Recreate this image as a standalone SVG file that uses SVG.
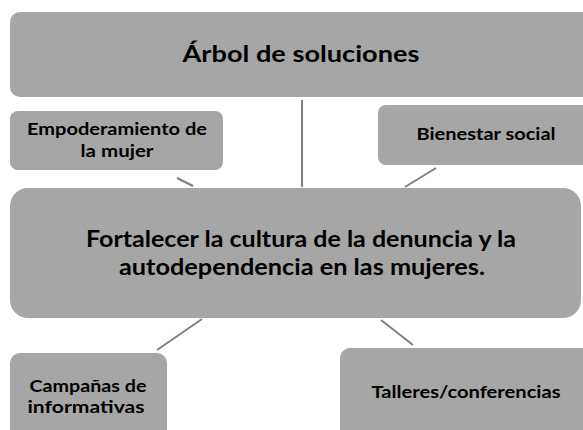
<svg xmlns="http://www.w3.org/2000/svg" width="583" height="430" viewBox="0 0 583 430">
<style>
.box{fill:#a6a6a6;stroke:none}
.t{font-family:Lato,"Open Sans",sans-serif;font-weight:bold;fill:#000;text-anchor:middle}
.c{stroke:#7f7f7f;stroke-width:2;fill:none}
</style>
<rect width="583" height="430" fill="#fff"/>
<g id="connectors">
<line class="c" x1="302" y1="100" x2="302" y2="187"/>
<line class="c" x1="177" y1="178" x2="193" y2="186"/>
<line class="c" x1="436" y1="168" x2="405" y2="187"/>
<line class="c" x1="202" y1="319" x2="157" y2="350"/>
<line class="c" x1="381" y1="320" x2="413" y2="345"/>
</g>
<g id="n-top">
<rect class="box" x="10" y="12" width="583" height="85" rx="10"/>
<text class="t" x="301" y="62" font-size="23" textLength="237" lengthAdjust="spacingAndGlyphs">Árbol de soluciones</text>
</g>
<g id="n-empoderamiento">
<rect class="box" x="10" y="111" width="213" height="59" rx="8"/>
<text class="t" x="117" y="135" font-size="17" textLength="180" lengthAdjust="spacingAndGlyphs">Empoderamiento de</text>
<text class="t" x="117" y="157" font-size="17" textLength="73" lengthAdjust="spacingAndGlyphs">la mujer</text>
</g>
<g id="n-bienestar">
<rect class="box" x="378" y="105" width="215" height="60" rx="8"/>
<text class="t" x="486" y="140" font-size="17" textLength="139" lengthAdjust="spacingAndGlyphs">Bienestar social</text>
</g>
<g id="n-main">
<rect class="box" x="10" y="188" width="571" height="130" rx="18"/>
<text class="t" x="301" y="247" font-size="22" textLength="430" lengthAdjust="spacingAndGlyphs">Fortalecer la cultura de la denuncia y la</text>
<text class="t" x="302" y="275" font-size="22" textLength="366" lengthAdjust="spacingAndGlyphs">autodependencia en las mujeres.</text>
</g>
<g id="n-campanas">
<rect class="box" x="10" y="353" width="157" height="90" rx="10"/>
<text class="t" x="88" y="392" font-size="17" textLength="117" lengthAdjust="spacingAndGlyphs">Campañas de</text>
<text class="t" x="86" y="413" font-size="17" textLength="117" lengthAdjust="spacingAndGlyphs">informativas</text>
</g>
<g id="n-talleres">
<rect class="box" x="340" y="348" width="253" height="90" rx="10"/>
<text class="t" x="466" y="398" font-size="17" textLength="189" lengthAdjust="spacingAndGlyphs">Talleres/conferencias</text>
</g>
</svg>
